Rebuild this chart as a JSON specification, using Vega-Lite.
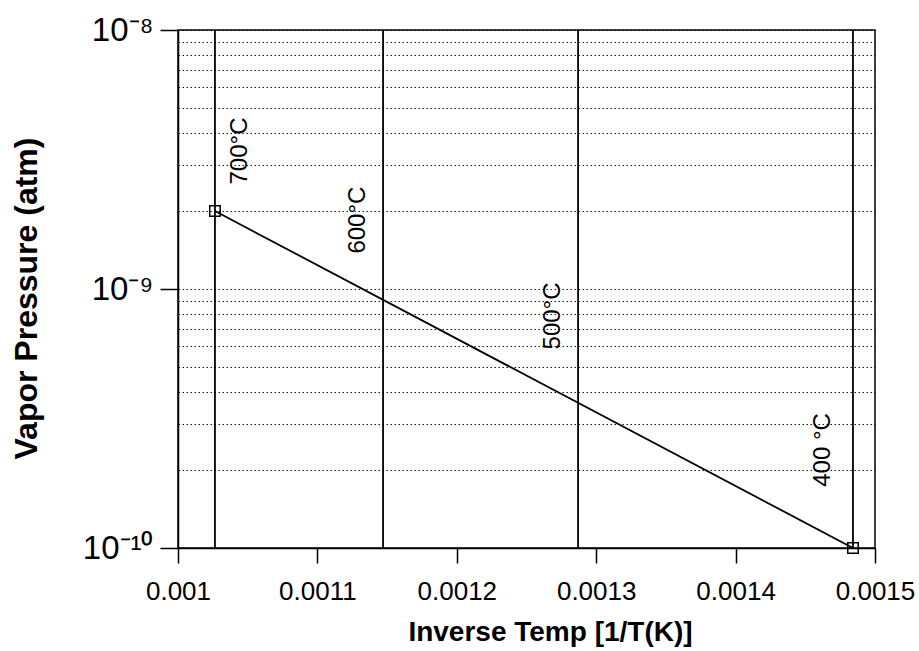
{
  "$schema": "https://vega.github.io/schema/vega-lite/v6.json",
  "autosize": {"type": "none"},
  "width": 697,
  "height": 518,
  "padding": {"left": 178, "top": 30, "right": 44, "bottom": 103},
  "background": "white",
  "config": {
    "view": {"stroke": "black", "strokeWidth": 1.5},
    "font": "Liberation Sans"
  },
  "datasets": {
    "temps": [
      {"label": "700°C", "inv": 0.0010265},
      {"label": "600°C", "inv": 0.0011471},
      {"label": "500°C", "inv": 0.001287},
      {"label": "400 °C", "inv": 0.0014842}
    ],
    "curve": [
      {"inv": 0.0010265, "p": 2.0e-9},
      {"inv": 0.0014842, "p": 1.0e-10}
    ],
    "labels": [
      {"label": "700°C", "inv": 0.0010445, "p": 3.41e-9},
      {"label": "600°C", "inv": 0.0011291, "p": 1.845e-9},
      {"label": "500°C", "inv": 0.001269, "p": 7.87e-10},
      {"label": "400 °C", "inv": 0.0014627, "p": 2.39e-10}
    ]
  },
  "layer": [
    {
      "data": {"name": "curve"},
      "mark": {"type": "line", "color": "black", "strokeWidth": 1.8},
      "encoding": {
        "x": {
          "field": "inv", "type": "quantitative",
          "scale": {"domain": [0.001, 0.0015], "nice": false, "zero": false},
          "axis": {
            "title": "Inverse Temp [1/T(K)]",
            "values": [0.001, 0.0011, 0.0012, 0.0013, 0.0014, 0.0015],
            "labelExpr": "format(datum.value, '.4~f')",
            "grid": false,
            "domainColor": "black", "domainWidth": 1.5,
            "tickColor": "black", "tickWidth": 1.5, "tickSize": 15,
            "labelFont": "Liberation Sans", "labelFontSize": 26, "labelColor": "black",
            "labelPadding": 15, "labelFlush": false, "labelOverlap": false,
            "titleFont": "Liberation Sans", "titleFontSize": 28, "titleFontWeight": "bold", "titleColor": "black",
            "titleX": 372, "titleY": 92, "titleBaseline": "alphabetic", "titleAnchor": "middle"
          }
        },
        "y": {
          "field": "p", "type": "quantitative",
          "scale": {"type": "log", "domain": [1e-10, 1e-8], "nice": false},
          "axis": {
            "title": "Vapor Pressure (atm)",
            "values": [1e-10, 2e-10, 3e-10, 4e-10, 5e-10, 6e-10, 7e-10, 8e-10, 9e-10, 1e-9, 2e-9, 3e-9, 4e-9, 5e-9, 6e-9, 7e-9, 8e-9, 9e-9, 1e-8],
            "labelExpr": "datum.value == 1e-8 ? '10⁻⁸' : datum.value == 1e-9 ? '10⁻⁹' : datum.value == 1e-10 ? '10⁻¹⁰' : ''",
            "grid": true, "gridColor": "black", "gridDash": [1.5, 2.5], "gridWidth": 1.2, "gridOpacity": 0.9,
            "domainColor": "black", "domainWidth": 1.5,
            "tickColor": "black", "tickWidth": 1.5, "tickSize": 18,
            "tickOpacity": {"condition": {"test": "datum.value == 1e-8 || datum.value == 1e-9 || datum.value == 1e-10", "value": 1}, "value": 0},
            "labelFont": "Liberation Sans", "labelFontSize": 33, "labelColor": "black",
            "labelPadding": 7, "labelFlush": false, "labelOverlap": false, "labelBaseline": "middle",
            "titleFont": "Liberation Sans", "titleFontSize": 32, "titleFontWeight": "bold", "titleColor": "black",
            "titleX": -152, "titleY": 268, "titleAngle": 270, "titleBaseline": "middle", "titleAnchor": "middle"
          }
        }
      }
    },
    {
      "data": {"name": "curve"},
      "mark": {"type": "point", "shape": "square", "filled": false, "color": "black", "size": 110, "strokeWidth": 1.5, "opacity": 1},
      "encoding": {
        "x": {"field": "inv", "type": "quantitative"},
        "y": {"field": "p", "type": "quantitative"}
      }
    },
    {
      "data": {"name": "temps"},
      "mark": {"type": "rule", "color": "black", "strokeWidth": 1.8},
      "encoding": {
        "x": {"field": "inv", "type": "quantitative"}
      }
    },
    {
      "data": {"name": "labels"},
      "mark": {"type": "text", "angle": 270, "align": "center", "baseline": "middle", "font": "Liberation Sans", "fontSize": 24, "color": "black"},
      "encoding": {
        "x": {"field": "inv", "type": "quantitative"},
        "y": {"field": "p", "type": "quantitative"},
        "text": {"field": "label", "type": "nominal"}
      }
    }
  ]
}
